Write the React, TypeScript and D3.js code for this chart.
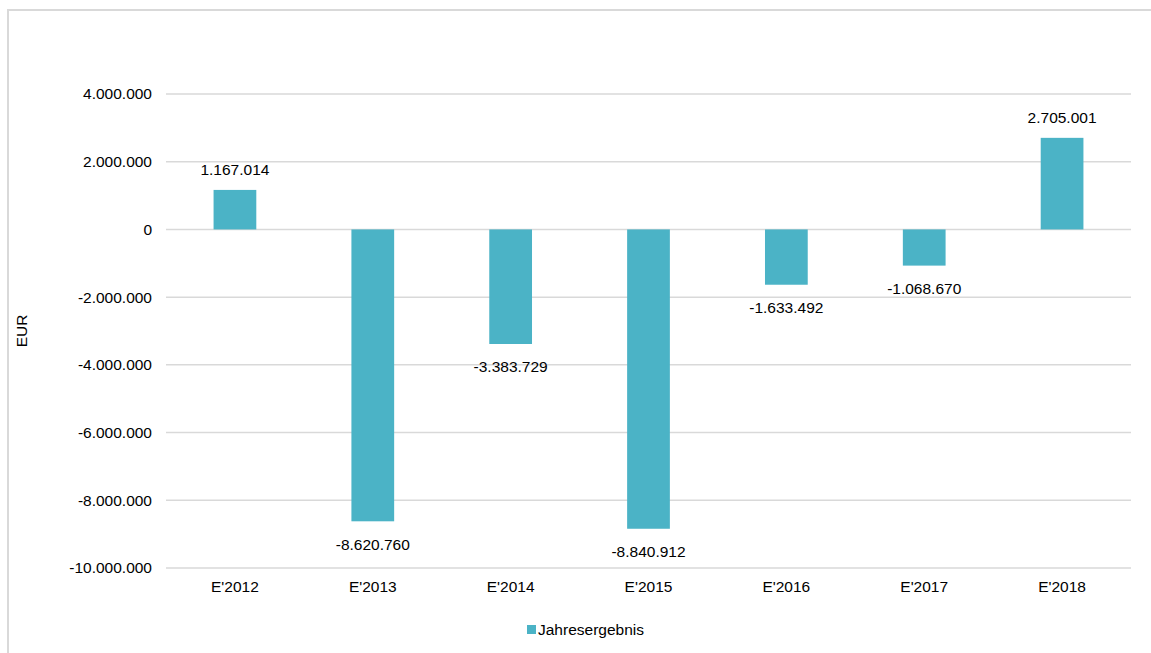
import React from "react";
import * as d3 from "d3";

const categories = ["E'2012", "E'2013", "E'2014", "E'2015", "E'2016", "E'2017", "E'2018"];
const values = [1167014, -8620760, -3383729, -8840912, -1633492, -1068670, 2705001];
const yTicks = [4000000, 2000000, 0, -2000000, -4000000, -6000000, -8000000, -10000000];
const seriesName = "Jahresergebnis";
const axisTitle = "EUR";

const W = 1151;
const H = 653;
const FONT = "'Liberation Sans', Arial, Helvetica, sans-serif";
const COLOR = "#4bb3c6";
const FS = 15.5;

const fmt = (v: number) => {
  const s = Math.abs(v).toString().replace(/\B(?=(\d{3})+(?!\d))/g, ".");
  return (v < 0 ? "-" : "") + s;
};

export default function App() {
  const left = 166, right = 1131, top = 94, bottom = 568;
  const y = d3.scaleLinear().domain([-10000000, 4000000]).range([bottom, top]);
  const x = d3.scaleBand<string>().domain(categories).range([left, right]).paddingInner(0.69).paddingOuter(0.345);
  const bw = x.bandwidth();
  return (
    <svg width={W} height={H} style={{ position: "absolute", left: 0, top: 0, background: "#fff" }} fontFamily={FONT}>
      <rect x={8} y={10} width={W + 20} height={H + 20} fill="none" stroke="#d9d9d9" strokeWidth={2} />
      {yTicks.map((t) => (
        <g key={t}>
          <line x1={left} x2={right} y1={y(t)} y2={y(t)} stroke="#d9d9d9" strokeWidth={1.5} />
          <text x={152} y={y(t)} dy="0.35em" textAnchor="end" fontSize={FS} fill="#000">{fmt(t)}</text>
        </g>
      ))}
      {categories.map((c, i) => {
        const v = values[i];
        const x0 = x(c)!;
        const y0 = Math.min(y(v), y(0));
        const h = Math.abs(y(v) - y(0));
        const cx = x0 + bw / 2;
        return (
          <g key={c}>
            <rect x={x0} y={y0} width={bw} height={h} fill={COLOR} />
            <text x={cx} y={v >= 0 ? y(v) - 20 : y(v) + 23} dy="0.35em" textAnchor="middle" fontSize={FS} fill="#000">{fmt(v)}</text>
            <text x={cx} y={587} dy="0.35em" textAnchor="middle" fontSize={FS} fill="#000">{c}</text>
          </g>
        );
      })}
      <text transform={`translate(22,${(top + bottom) / 2}) rotate(-90)`} textAnchor="middle" dy="0.35em" fontSize={FS} fill="#000">{axisTitle}</text>
      <rect x={527} y={625} width={9} height={9} fill={COLOR} />
      <text x={538} y={630} dy="0.35em" fontSize={FS} fill="#000">{seriesName}</text>
    </svg>
  );
}
